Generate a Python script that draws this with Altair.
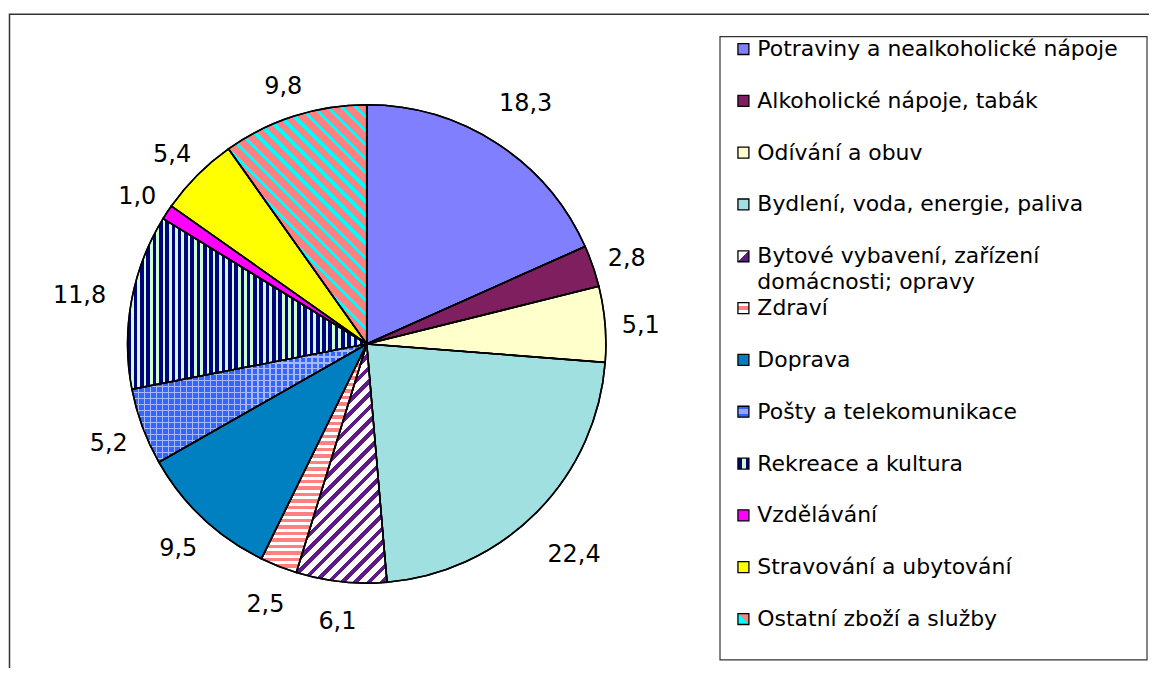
import math
import altair as alt
import pandas as pd

categories = [
    "Potraviny a nealkoholické nápoje",
    "Alkoholické nápoje, tabák",
    "Odívání a obuv",
    "Bydlení, voda, energie, paliva",
    "Bytové vybavení, zařízení domácnosti; opravy",
    "Zdraví",
    "Doprava",
    "Pošty a telekomunikace",
    "Rekreace a kultura",
    "Vzdělávání",
    "Stravování a ubytování",
    "Ostatní zboží a služby",
]
values = [18.3, 2.8, 5.1, 22.4, 6.1, 2.5, 9.5, 5.2, 11.8, 1.0, 5.4, 9.8]
legend_lines = [
    ["Potraviny a nealkoholické nápoje"],
    ["Alkoholické nápoje, tabák"],
    ["Odívání a obuv"],
    ["Bydlení, voda, energie, paliva"],
    ["Bytové vybavení, zařízení", "domácnosti; opravy"],
    ["Zdraví"],
    ["Doprava"],
    ["Pošty a telekomunikace"],
    ["Rekreace a kultura"],
    ["Vzdělávání"],
    ["Stravování a ubytování"],
    ["Ostatní zboží a služby"],
]
colors = ["#8080FF", "#7F1F5F", "#FFFFCC", "#A0E0E0", "#FFFFFF", "#FF8080",
          "#0080C0", "#3366FF", "#000080", "#FF00FF", "#FFFF00", "#FF8080"]

labels = [f"{v:.1f}".replace(".", ",") for v in values]
total = round(sum(values), 6)

df = pd.DataFrame({
    "idx": list(range(len(categories))),
    "cat": categories,
    "value": values,
    "label": labels,
    "lines": legend_lines,
})

# ---- geometry / style constants ----
CX, CY, R = 360, 336, 240
FONT = "DejaVu Sans"

# cumulative fractions (only used to size the stripe gradients)
fr = []
acc = 0.0
for v in values:
    fr.append((acc / total, (acc + v) / total))
    acc += v


def arc_bbox(i):
    f0, f1 = fr[i]
    a0, a1 = 2 * math.pi * f0, 2 * math.pi * f1
    angs = [a0, a1] + [k * math.pi / 2 for k in range(5) if a0 < k * math.pi / 2 < a1]
    xs = [0.0] + [R * math.sin(a) for a in angs]
    ys = [0.0] + [-R * math.cos(a) for a in angs]
    return min(xs), min(ys), max(xs), max(ys)


def stripes(bbox, angle_deg, period, col_a, width_a, col_b):
    nx, ny = math.cos(math.radians(angle_deg)), math.sin(math.radians(angle_deg))
    x0, y0, x1, y1 = bbox
    W, H = max(x1 - x0, 1), max(y1 - y0, 1)
    ux, uy = nx * W, ny * H
    corners = [(0, 0), (1, 0), (0, 1), (1, 1)]
    projs = [cx * ux + cy * uy for cx, cy in corners]
    i0 = projs.index(min(projs))
    L = max(projs) - min(projs)
    s = L / (ux * ux + uy * uy)
    p1 = corners[i0]
    p2 = (p1[0] + ux * s, p1[1] + uy * s)
    stops = []
    k = 0
    while k * period < L:
        a = k * period / L
        b = min((k * period + width_a) / L, 1.0)
        c = min((k + 1) * period / L, 1.0)
        stops += [{"offset": a, "color": col_a}, {"offset": b, "color": col_a},
                  {"offset": b, "color": col_b}, {"offset": c, "color": col_b}]
        k += 1
    return {"gradient": "linear", "x1": p1[0], "y1": p1[1],
            "x2": p2[0], "y2": p2[1], "stops": stops}


def split(x1, y1, x2, y2, bands):
    stops = []
    for (o0, o1, c) in bands:
        stops += [{"offset": o0, "color": c}, {"offset": o1, "color": c}]
    return {"gradient": "linear", "x1": x1, "y1": y1, "x2": x2, "y2": y2, "stops": stops}


PURPLE = "#5F1A8A"
arc_patterns = {
    4: stripes(arc_bbox(4), 45, 9.5, PURPLE, 4.0, "#FFFFFF"),
    5: stripes(arc_bbox(5), 90, 6.5, "#FF8080", 3.5, "#FFFFFF"),
    7: stripes(arc_bbox(7), 90, 6.0, "#A8B8FF", 1.6, "#3366FF"),
    8: stripes(arc_bbox(8), 0, 6.3, "#000080", 3.6, "#CCFFCC"),
    11: stripes(arc_bbox(11), -45, 10.0, "#FF8080", 6.8, "#00FFFF"),
}
posty_vertical = stripes(arc_bbox(7), 0, 6.0, "#A8B8FF", 1.6, "rgba(0,0,0,0)")

icon_patterns = {
    4: split(0, 0, 1, 1, [(0, 0.5, "#FFFFFF"), (0.5, 1, PURPLE)]),
    5: split(0, 0, 0, 1, [(0, 0.3, "#FFFFFF"), (0.3, 0.7, "#FF8080"), (0.7, 1, "#FFFFFF")]),
    7: split(0, 0, 0, 1, [(0, 0.25, "#3366FF"), (0.25, 0.75, "#8FA5FF"), (0.75, 1, "#3366FF")]),
    8: split(0, 0, 1, 0, [(0, 0.35, "#000080"), (0.35, 0.7, "#CCFFCC"), (0.7, 1, "#000080")]),
    11: split(0, 1, 1, 0, [(0, 0.5, "#00FFFF"), (0.5, 1, "#FF8080")]),
}

color_scale = alt.Scale(domain=categories, range=colors)
theta_scale = alt.Scale(domain=[0, total], range=[0, 2 * math.pi])
legend_y = alt.Scale(domain=[0, 11], range=[40, 612])

base = (
    alt.Chart(df)
    .transform_window(cum1="sum(value)", sort=[alt.SortField("idx")], frame=[None, 0])
    .transform_calculate(
        cum0="datum.cum1 - datum.value",
        mid="datum.cum1 - datum.value / 2",
        r="276 + (length(datum.label) - 3) * 17",
    )
)

theta_enc = dict(
    theta=alt.Theta("cum0:Q", scale=theta_scale, stack=False),
    theta2=alt.Theta2("cum1:Q"),
    x=alt.value(CX),
    y=alt.value(CY),
)

pie = base.mark_arc(radius=R, stroke="black", strokeWidth=1.5).encode(
    fill=alt.Fill(
        "cat:N", scale=color_scale, legend=None,
        condition=[{"test": f"datum.idx === {i}", "value": g} for i, g in arc_patterns.items()],
    ),
    **theta_enc,
)

posty_overlay = (
    base.transform_filter("datum.idx === 7")
    .mark_arc(radius=R, strokeWidth=0)
    .encode(fill=alt.value(posty_vertical), **theta_enc)
)

outlines = base.mark_arc(radius=R, filled=False, stroke="black", strokeWidth=1.6).encode(**theta_enc)

value_labels = base.mark_text(font=FONT, fontSize=24, color="black", dy=5).encode(
    theta=alt.Theta("mid:Q", scale=theta_scale, stack=False),
    radius=alt.Radius("r:Q", scale=None),
    x=alt.value(CX),
    y=alt.value(CY),
    text="label:N",
)

one = alt.Data(values=[{"k": 1}])
outer_frame = alt.Chart(one).mark_rect(filled=False, stroke="#333333", strokeWidth=1.5).encode(
    x=alt.value(1.5), y=alt.value(5), x2=alt.value(1400), y2=alt.value(900)
)
legend_frame = alt.Chart(one).mark_rect(filled=False, stroke="#333333", strokeWidth=1.2).encode(
    x=alt.value(714.5), y=alt.value(27.5), x2=alt.value(1143), y2=alt.value(653)
)

legend_marks = alt.Chart(df).mark_square(size=121, stroke="black", strokeWidth=1.3, opacity=1).encode(
    x=alt.value(738),
    y=alt.Y("idx:Q", scale=legend_y, axis=None),
    fill=alt.Fill(
        "cat:N", scale=color_scale, legend=None,
        condition=[{"test": f"datum.idx === {i}", "value": g} for i, g in icon_patterns.items()],
    ),
)

legend_text = alt.Chart(df).mark_text(
    align="left", baseline="top", dy=-10, font=FONT, fontSize=22, lineHeight=26, color="black"
).encode(
    x=alt.value(752),
    y=alt.Y("idx:Q", scale=legend_y, axis=None),
    text="lines",
)

chart = (
    alt.layer(outer_frame, legend_frame, pie, posty_overlay, outlines, value_labels,
              legend_marks, legend_text)
    .properties(width=1145, height=660, padding=0,
                autosize=alt.AutoSizeParams(type="none"), background="white")
    .configure_view(stroke=None)
)

chart.save("out.html", embed_options={"renderer": "svg", "actions": False})
